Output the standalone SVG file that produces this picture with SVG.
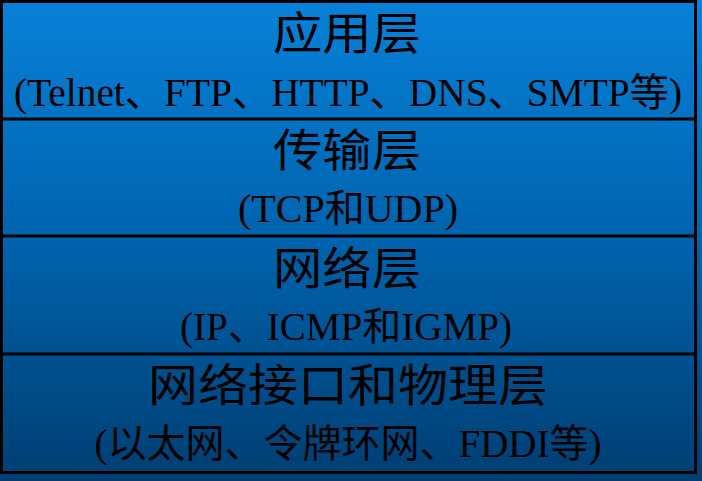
<svg xmlns="http://www.w3.org/2000/svg" width="702" height="481" viewBox="0 0 702 481">
<defs>
<linearGradient id="bg" x1="0" y1="0" x2="0" y2="1">
<stop offset="0" stop-color="#0881d9"/>
<stop offset="0.5" stop-color="#0063ad"/>
<stop offset="1" stop-color="#003e72"/>
</linearGradient>
</defs>
<style>
.t{font-family:"Noto Sans CJK SC","Liberation Serif",serif;font-size:45px;fill:#000;text-anchor:middle}
.s{font-family:"Liberation Serif","Noto Sans CJK SC",serif;font-size:39px;fill:#000;text-anchor:middle}
.ln{stroke:#000;stroke-width:3;fill:none}
</style>
<rect x="0" y="0" width="702" height="481" fill="url(#bg)"/>
<rect x="1.5" y="1.5" width="694" height="471" class="ln"/>
<line x1="0" y1="119" x2="697" y2="119" class="ln"/>
<line x1="0" y1="236" x2="697" y2="236" class="ln"/>
<line x1="0" y1="354" x2="697" y2="354" class="ln"/>
<g id="app">
<text class="t" x="347" y="50" textLength="148" lengthAdjust="spacingAndGlyphs">应用层</text>
<text class="s" x="348" y="106" textLength="668" lengthAdjust="spacingAndGlyphs">(Telnet、FTP、HTTP、DNS、SMTP等)</text>
</g>
<g id="transport">
<text class="t" x="347" y="167" textLength="148" lengthAdjust="spacingAndGlyphs">传输层</text>
<text class="s" x="348" y="222" textLength="220" lengthAdjust="spacingAndGlyphs">(TCP和UDP)</text>
</g>
<g id="network">
<text class="t" x="347" y="285" textLength="148" lengthAdjust="spacingAndGlyphs">网络层</text>
<text class="s" x="346" y="340" textLength="332" lengthAdjust="spacingAndGlyphs">(IP、ICMP和IGMP)</text>
</g>
<g id="link">
<text class="t" x="348" y="402" textLength="400" lengthAdjust="spacingAndGlyphs">网络接口和物理层</text>
<text class="s" x="348" y="457" textLength="507" lengthAdjust="spacingAndGlyphs">(以太网、令牌环网、FDDI等)</text>
</g>
</svg>
